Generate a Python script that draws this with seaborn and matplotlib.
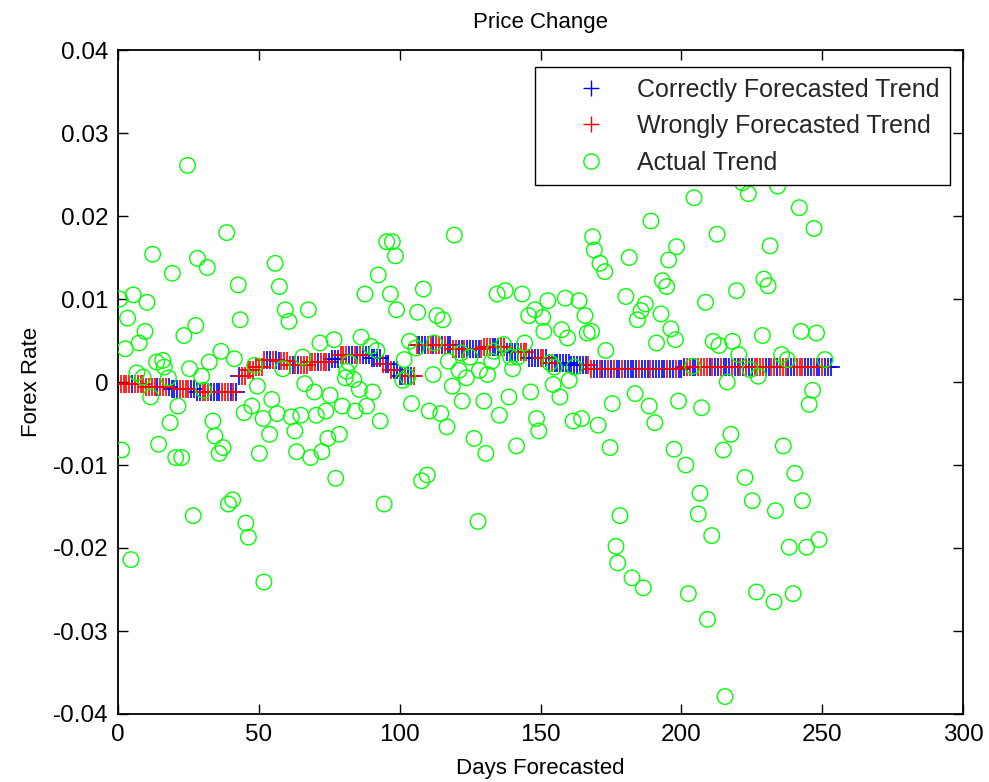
import numpy as np
import pandas as pd
import matplotlib
matplotlib.use("Agg")
import matplotlib.pyplot as plt
import seaborn as sns
from matplotlib.lines import Line2D

# ---------------- data ----------------
actual_day = [
    0.6, 1.3, 2.6, 3.4, 4.6, 5.4, 6.7, 7.5, 8.9, 9.6, 10.3, 11.6, 12.3, 13.7, 14.4, 15.9, 16.4, 17.9,
    18.5, 19.3, 20.5, 21.3, 22.6, 23.4, 24.7, 25.4, 26.7, 27.6, 28.2, 29.7, 30.4, 31.7, 32.4, 33.7,
    34.4, 35.9, 36.6, 37.3, 38.6, 39.2, 40.7, 41.3, 42.7, 43.4, 44.8, 45.4, 46.3, 47.5, 48.5, 49.5,
    50.2, 51.5, 51.8,
    53.8, 54.6, 55.8, 56.5, 57.3, 58.5, 59.4, 60.7, 61.5, 62.8, 63.4, 64.9, 65.6, 66.3, 67.6, 68.4,
    69.7, 70.4, 71.7, 72.4, 73.8, 74.5, 75.3, 76.7, 77.3, 78.6, 79.6, 80.7, 81.2, 82.1, 83.7, 84.2,
    85.7, 86.3, 87.7, 88.3, 89.7, 90.4, 91.9, 92.4, 93.1, 94.5, 95.4, 96.7, 97.4, 98.5, 98.9,
    101.1, 101.6, 102.8, 103.5, 104.2, 105.8, 106.4, 107.8, 108.4, 109.8, 110.5, 111.9, 112.3, 113.2,
    114.6, 115.3, 116.8, 117.3, 118.7, 119.4, 121.1, 121.7, 122.2, 123.7, 125.0, 126.4, 127.8, 128.3,
    129.9, 130.6, 131.2, 132.7, 133.5, 134.6, 135.4, 136.9, 137.5, 138.8, 139.4, 140.1, 141.5, 141.9,
    143.5, 144.4, 145.8, 146.5, 148.0, 148.6, 149.4,
    150.8, 151.2, 152.6, 153.4, 154.5, 154.9, 156.9, 157.5, 158.8, 159.6, 160.2, 161.6, 162.0, 163.7,
    164.6, 165.8, 166.6, 168.1, 168.5, 169.1, 170.5, 171.1, 172.8, 173.2, 174.7, 175.5, 176.8, 177.4,
    178.2, 180.3, 181.5, 182.5, 183.6, 184.4, 185.7, 186.5, 187.2, 188.6, 189.2, 190.6, 191.2, 192.8,
    193.3, 194.8, 195.5, 196.3, 197.4, 197.9, 198.3, 199.0,
    201.6, 202.5, 204.0, 204.5, 206.0, 206.6, 207.2, 208.6, 209.3, 210.8, 211.3, 212.7, 213.4, 214.9,
    215.5, 216.3, 217.6, 218.2, 219.6, 220.4, 221.7, 222.6, 223.8, 224.4, 225.2, 226.7, 227.3, 228.8,
    229.3, 230.8, 231.5, 232.9, 233.4, 234.2, 235.6, 236.2, 237.6, 238.3, 239.7, 240.3, 241.9, 242.5,
    243.0, 244.5, 245.4, 246.6, 247.1, 248.0, 248.9, 251.0,
]
actual_rate = [
    0.0100, -0.0082, 0.0040, 0.0077, -0.0214, 0.0105, 0.0011, 0.0047, 0.0006, 0.0061, 0.0096, -0.0018,
    0.0154, 0.0024, -0.0075, 0.0026, 0.0018, 0.0005, -0.0049, 0.0131, -0.0091, -0.0029, -0.0091, 0.0056,
    0.0261, 0.0016, -0.0161, 0.0068, 0.0149, 0.0007, -0.0010, 0.0138, 0.0024, -0.0047, -0.0065, -0.0086,
    0.0037, -0.0079, 0.0180, -0.0147, -0.0142, 0.0028, 0.0117, 0.0075, -0.0037, -0.0170, -0.0187, -0.0029,
    0.0020, -0.0005, -0.0086, -0.0044, -0.0241,
    -0.0063, -0.0021, 0.0143, -0.0038, 0.0115, 0.0016, 0.0087, 0.0073, -0.0042, -0.0059, -0.0084, -0.0040,
    0.0030, -0.0002, 0.0087, -0.0091, -0.0012, -0.0040, 0.0047, -0.0084, -0.0035, -0.0068, -0.0016, 0.0051,
    -0.0116, -0.0063, -0.0029, 0.0005, 0.0013, 0.0023, 0.0003, -0.0035, -0.0009, 0.0054, 0.0106, -0.0029,
    0.0043, -0.0012, 0.0038, 0.0129, -0.0047, -0.0147, 0.0169, 0.0106, 0.0169, 0.0152, 0.0087,
    0.0002, 0.0027, 0.0006, 0.0049, -0.0026, 0.0041, 0.0084, -0.0119, 0.0112, -0.0112, -0.0035, 0.0009,
    0.0047, 0.0080, -0.0038, 0.0075, -0.0054, 0.0025, -0.0005, 0.0177, 0.0014, 0.0035, -0.0023, 0.0005,
    0.0030, -0.0068, -0.0168, 0.0014, -0.0023, -0.0086, 0.0009, 0.0025, 0.0037, 0.0106, -0.0040, 0.0045,
    0.0110, -0.0018, 0.0030, 0.0016, -0.0077, 0.0030, 0.0106, 0.0047, 0.0080, -0.0012, 0.0087, -0.0044,
    -0.0059,
    0.0078, 0.0061, 0.0098, 0.0023, -0.0003, 0.0018, -0.0018, 0.0063, 0.0101, 0.0053, 0.0002, -0.0047,
    0.0018, 0.0098, -0.0044, 0.0080, 0.0059, 0.0061, 0.0175, 0.0159, -0.0052, 0.0143, 0.0133, 0.0038,
    -0.0079, -0.0026, -0.0198, -0.0218, -0.0161, 0.0103, 0.0150, -0.0236, -0.0014, 0.0075, 0.0086, -0.0248,
    0.0094, -0.0029, 0.0194, -0.0049, 0.0047, 0.0082, 0.0122, 0.0115, 0.0147, 0.0064, -0.0081, 0.0051,
    0.0163, -0.0023,
    -0.0100, -0.0255, 0.0019, 0.0222, -0.0159, -0.0134, -0.0031, 0.0096, -0.0286, -0.0185, 0.0049, 0.0178,
    0.0044, -0.0082, -0.0379, 0.0000, -0.0063, 0.0049, 0.0110, 0.0033, 0.0240, -0.0115, 0.0227, 0.0015,
    -0.0143, -0.0253, 0.0007, 0.0056, 0.0124, 0.0116, 0.0164, -0.0265, -0.0155, 0.0236, 0.0033, -0.0077,
    0.0027, -0.0199, -0.0255, -0.0110, 0.0210, 0.0061, -0.0143, -0.0199, -0.0027, -0.0010, 0.0185, 0.0059,
    -0.0190, 0.0027,
]

# forecasted trend: piecewise levels (days 1..253)
trend_levels = [-0.0003, -0.0006, -0.0008, -0.0012, 0.0007, 0.0014, 0.0018, 0.0027, 0.0025,
                0.0020, 0.0024, 0.0028, 0.0033, 0.0029, 0.0022, 0.0014, 0.0007, 0.0045,
                0.0040, 0.0042, 0.0036, 0.0029, 0.0023, 0.0020, 0.0016, 0.0018]
trend_run_lengths = [9, 9, 9, 15, 3, 3, 3, 5, 4, 7, 8, 3, 11, 4, 3, 3, 6, 13,
                     11, 8, 8, 7, 8, 7, 33, 53]
# C = correctly forecasted (blue), W = wrongly forecasted (red), one letter per day
trend_flags = "".join([
    "WWWWCWWWWW", "WWWCWWWCCC", "CWWWWCCCCW", "WWCCCCWWWC", "WCCWWWWWWW",
    "WWCCWCCWWW", "WCWCWWWWWW", "CWWWCCCCWW", "WCCWCWCCCC", "CCCWCCWCCC",
    "CWCCWWCCCW", "WCWWCWCCWW", "CCWCCCCCWW", "WWCCCWWCCC", "CCWWWCCCCW",
    "WCCWCCCCCC", "CCCCCCWWCC", "WCCWCWCCWC", "CCCCWCCCWC", "CCCCWCCWCC",
    "CWWCCWWWWC", "WCCWCCCWCC", "WCWCCWWWWC", "CWWCWWWCCC", "WWWCCCWCCW",
    "CCC",
])

x_ticks = [0, 50, 100, 150, 200, 250, 300]
y_ticks = [-0.04, -0.03, -0.02, -0.01, 0.0, 0.01, 0.02, 0.03, 0.04]
y_tick_labels = ["-0.04", "-0.03", "-0.02", "-0.01", "0", "0.01", "0.02", "0.03", "0.04"]

title_text = "Price Change"
x_label = "Days Forecasted"
y_label = "Forex Rate"
legend_labels = ["Correctly Forecasted Trend", "Wrongly Forecasted Trend", "Actual Trend"]

# ---------------- build tables ----------------
days = np.arange(1, len(trend_flags) + 1)
pred = np.repeat(trend_levels, trend_run_lengths)
trend_df = pd.DataFrame({"day": days, "pred": pred, "flag": list(trend_flags)})
correct_df = trend_df[trend_df["flag"] == "C"]
wrong_df = trend_df[trend_df["flag"] == "W"]
actual_df = pd.DataFrame({"day": actual_day, "rate": actual_rate})

# ---------------- style ----------------
sns.set_theme(style="white")
plt.rcParams["font.family"] = ["Liberation Sans", "DejaVu Sans"]

W, H = 989, 782
fig = plt.figure(figsize=(W / 100, H / 100), dpi=100)
fig.patch.set_facecolor("white")
ax = fig.add_axes([118 / W, (H - 714) / H, (963 - 118) / W, (714 - 50) / H])

BLUE, RED, GREEN = "#0000ff", "#ff0000", "#00ff00"

sns.scatterplot(data=correct_df, x="day", y="pred", marker="+", color=BLUE,
                s=180, linewidth=1.2, ax=ax, legend=False, zorder=2)
sns.scatterplot(data=wrong_df, x="day", y="pred", marker="+", color=RED,
                s=180, linewidth=1.2, ax=ax, legend=False, zorder=3)
sns.scatterplot(data=actual_df, x="day", y="rate", marker="o", color=GREEN,
                facecolor="none", edgecolor=GREEN, s=125, linewidth=1.0,
                ax=ax, legend=False, zorder=4)

ax.set_xlim(0, 300)
ax.set_ylim(-0.04, 0.04)
ax.set_xticks(x_ticks)
ax.set_xticklabels([str(t) for t in x_ticks])
ax.set_yticks(y_ticks)
ax.set_yticklabels(y_tick_labels)

FS_TICK = 17.5
FS_LAB = 16
FS_LEG = 18
ax.tick_params(direction="in", length=7, width=1, colors="black", labelsize=FS_TICK,
               top=True, right=True, bottom=True, left=True, pad=7)
for sp in ax.spines.values():
    sp.set_visible(True)
    sp.set_color("black")
    sp.set_linewidth(1.3)

ax.set_title(title_text, fontsize=FS_LAB, pad=16, color="black")
ax.set_xlabel(x_label, fontsize=FS_LAB, labelpad=9, color="black")
ax.set_ylabel(y_label, fontsize=FS_LAB, labelpad=8, color="black")

handles = [
    Line2D([], [], ls="none", marker="+", color=BLUE, markersize=12, mew=1.0),
    Line2D([], [], ls="none", marker="+", color=RED, markersize=12, mew=1.0),
    Line2D([], [], ls="none", marker="o", mfc="none", mec=GREEN, markersize=11, mew=1.0),
]
leg = ax.legend(handles, legend_labels, loc="upper right",
                bbox_to_anchor=(950 / W, (H - 67) / H), bbox_transform=fig.transFigure,
                borderaxespad=0, fontsize=FS_LEG, frameon=True, fancybox=False,
                handlelength=3.6, handletextpad=0.05, labelspacing=0.5, borderpad=0.42,
                numpoints=1)
leg.get_frame().set_edgecolor("black")
leg.get_frame().set_linewidth(1.0)
leg.get_frame().set_alpha(1)

fig.savefig("out.png", dpi=100, facecolor="white")
